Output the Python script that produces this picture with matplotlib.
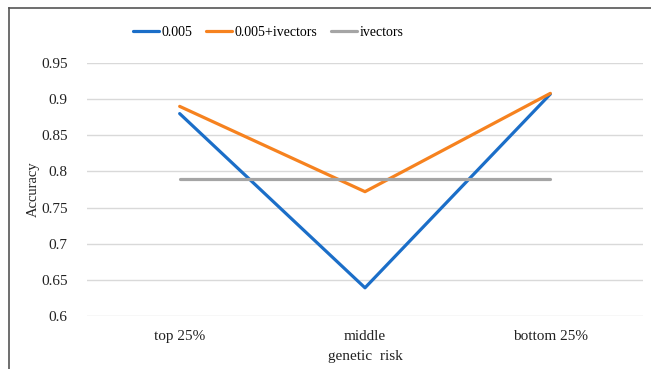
import matplotlib
matplotlib.use('Agg')
import matplotlib.pyplot as plt
from matplotlib.lines import Line2D

plt.rcParams['font.family'] = ['Liberation Serif', 'DejaVu Serif']

categories = ['top 25%', 'middle', 'bottom 25%']
acc_005 = [0.880, 0.639, 0.907]
acc_005_ivec = [0.890, 0.772, 0.908]
acc_ivec = [0.789, 0.789, 0.789]
y_ticks = [0.6, 0.65, 0.7, 0.75, 0.8, 0.85, 0.9, 0.95]
y_tick_labels = ['0.6', '0.65', '0.7', '0.75', '0.8', '0.85', '0.9', '0.95']

fig = plt.figure(figsize=(6.51, 3.69), dpi=100)
ax = fig.add_axes([87/651, 1 - 316/369, (643 - 87)/651, (316 - 63)/369])

x = range(len(categories))
ax.plot(x, acc_005, color='#1b6ec8', lw=2.3, label='0.005', solid_capstyle='round')
ax.plot(x, acc_005_ivec, color='#f6821f', lw=2.3, label='0.005+ivectors', solid_capstyle='round')
ax.plot(x, acc_ivec, color='#a5a5a5', lw=2.3, label='ivectors', solid_capstyle='round')

ax.set_xlim(-0.5, 2.5)
ax.set_ylim(0.6, 0.95)
ax.set_yticks(y_ticks)
ax.set_yticklabels(y_tick_labels)
ax.set_xticks(list(x))
ax.set_xticklabels(categories)
ax.yaxis.grid(True, color='#d9d9d9', lw=1)
ax.set_axisbelow(True)
for s in ax.spines.values():
    s.set_visible(False)
ax.tick_params(axis='both', length=0, labelsize=11, colors='#222222')
ax.tick_params(axis='y', pad=14)
ax.tick_params(axis='x', pad=10)
ax.set_ylabel('Accuracy', fontsize=10.5, color='#222222', labelpad=1)
ax.set_xlabel('genetic  risk', fontsize=11, color='#222222', labelpad=5)

fig.legend(loc='center', bbox_to_anchor=(268/651, 1 - 32/369), ncol=3, frameon=False,
           fontsize=10, handlelength=1.9, handletextpad=0.15, columnspacing=1.0)

# border of the cropped frame (top and left)
fig.add_artist(Line2D([9/651, 9/651], [0, 1 - 8/369], transform=fig.transFigure, color='#555555', lw=1.2))
fig.add_artist(Line2D([9/651, 1], [1 - 8/369, 1 - 8/369], transform=fig.transFigure, color='#555555', lw=1.2))

fig.savefig('out.png', dpi=100)
